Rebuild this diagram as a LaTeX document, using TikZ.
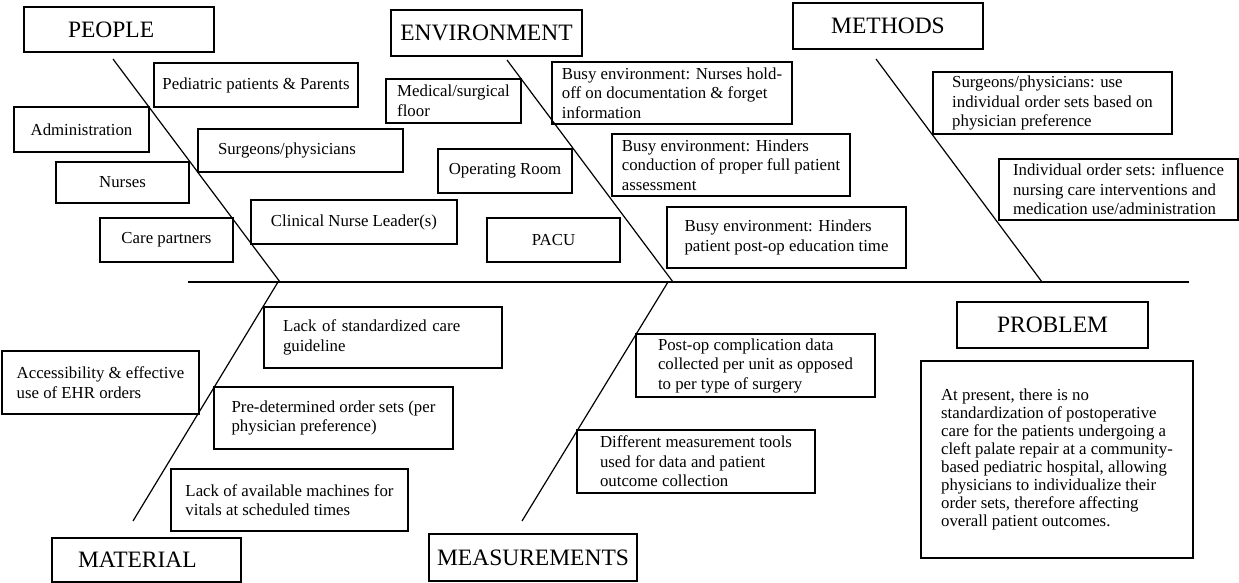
\documentclass[tikz,border=0pt]{standalone}
\usepackage{fontspec}
\setmainfont{Liberation Serif}

\begin{document}
\begin{tikzpicture}[
    x=1pt, y=-1pt,
    header/.style={draw, fill=white, line width=1.2pt, minimum height=46pt, font=\fontsize{23.5}{28}\selectfont},
    cause/.style={draw, fill=white, line width=1.2pt, minimum height=44pt, font=\fontsize{16.8}{19.5}\selectfont},
    note/.style={cause, align=left, inner ysep=0pt},
    bone/.style={line width=1.2pt},
]
\useasboundingbox (0,0) rectangle (1239,583);

% Category headers
\node[header, minimum width=190pt, minimum height=45pt, text width=102pt, inner xsep=44pt, align=left] (people) at (119,29.5) {PEOPLE};
\node[header, minimum width=191pt] (environment) at (486.5,33) {ENVIRONMENT};
\node[header, minimum width=190pt] (methods) at (888,26) {METHODS};
\node[header, minimum width=191pt] (problem) at (1052.5,325) {PROBLEM};
\node[header, minimum height=44pt, text width=137pt, inner xsep=26pt, align=left] (material) at (146.5,560) {MATERIAL};
\node[header, minimum width=208pt, minimum height=47pt] (measurements) at (533,557.5) {MEASUREMENTS};

% People
\node[cause, minimum width=204pt] (peds) at (256,85) {Pediatric patients \& Parents};
\node[cause, minimum width=135pt, minimum height=45pt] (admin) at (81.5,129.5) {Administration};
\node[cause, minimum height=43pt, text width=165pt, inner xsep=20pt, align=left] (surgeons) at (300.5,150.5) {Surgeons/physicians};
\node[cause, minimum width=133pt, minimum height=41pt] (nurses) at (122.5,182.5) {Nurses};
\node[cause, minimum width=206pt] (cnl) at (354,222) {Clinical Nurse Leader(s)};
\node[cause, minimum width=133pt] (carep) at (166.5,240) {Care partners};

% Environment
\node[note, minimum width=135pt] (medsurg) at (453.5,101) {Medical/surgical\\floor};
\node[cause, minimum width=134pt] (orroom) at (505,171) {Operating Room};
\node[cause, minimum width=133pt] (pacu) at (553.5,240) {PACU};
\node[note, minimum width=240pt, minimum height=62pt] (busydoc) at (672,93) {Busy environment: Nurses hold-\\off on documentation \& forget\\information};
\node[note, minimum width=238pt, minimum height=62pt] (busyassess) at (731,165) {Busy environment: Hinders\\conduction of proper full patient\\assessment};
\node[note, minimum width=239pt, minimum height=61pt] (busyedu) at (786.5,237.5) {Busy environment: Hinders\\patient post-op education time};

% Methods
\node[note, minimum width=239pt, minimum height=62pt] (ordersets) at (1052.5,103) {Surgeons/physicians: use\\individual order sets based on\\physician preference};
\node[note, minimum width=239pt, minimum height=61pt] (orderinfl) at (1118.5,189.5) {Individual order sets: influence\\nursing care interventions and\\medication use/administration};

% Material
\node[note, minimum height=61pt, text width=200pt, inner xsep=19pt] (stdguide) at (383,337.5) {Lack of standardized care\\guideline};
\node[note, minimum width=197pt, minimum height=63pt] (ehr) at (100.5,382.5) {Accessibility \& effective\\use of EHR orders};
\node[note, minimum width=239pt, minimum height=62pt] (predet) at (333.5,418) {Pre-determined order sets (per\\physician preference)};
\node[note, minimum width=237pt, minimum height=62pt] (machines) at (289.5,500) {Lack of available machines for\\vitals at scheduled times};

% Measurements
\node[note, minimum width=239pt, minimum height=63pt] (postopdata) at (755.5,365.5) {Post-op complication data\\collected per unit as opposed\\to per type of surgery};
\node[note, minimum width=238pt, minimum height=63pt] (tools) at (696,461.5) {Different measurement tools\\used for data and patient\\outcome collection};

% Problem statement
\node[note, minimum width=272pt, minimum height=197pt, font=\fontsize{16.8}{18}\selectfont] (problemtext) at (1057,459.5) {At present, there is no\\standardization of postoperative\\care for the patients undergoing a\\cleft palate repair at a community-\\based pediatric hospital, allowing\\physicians to individualize their\\order sets, therefore affecting\\overall patient outcomes.};

% Spine and bones
\coordinate (spineL) at (188,282);
\coordinate (spineR) at (1189,282);
\coordinate (peopletop) at (113,59);
\coordinate (peoplejoin) at (280,282);
\coordinate (envtop) at (507,60);
\coordinate (envjoin) at (673,282);
\coordinate (methtop) at (876,59);
\coordinate (methjoin) at (1042,282);
\coordinate (matbot) at (133,521);
\coordinate (matjoin) at (278,282);
\coordinate (measbot) at (522,521);
\coordinate (measjoin) at (668,282);

\draw[bone] (spineL) -- (spineR);
\draw[bone] (peopletop) -- (peoplejoin);
\draw[bone] (envtop) -- (envjoin);
\draw[bone] (methtop) -- (methjoin);
\draw[bone] (matbot) -- (matjoin);
\draw[bone] (measbot) -- (measjoin);

\end{tikzpicture}
\end{document}
